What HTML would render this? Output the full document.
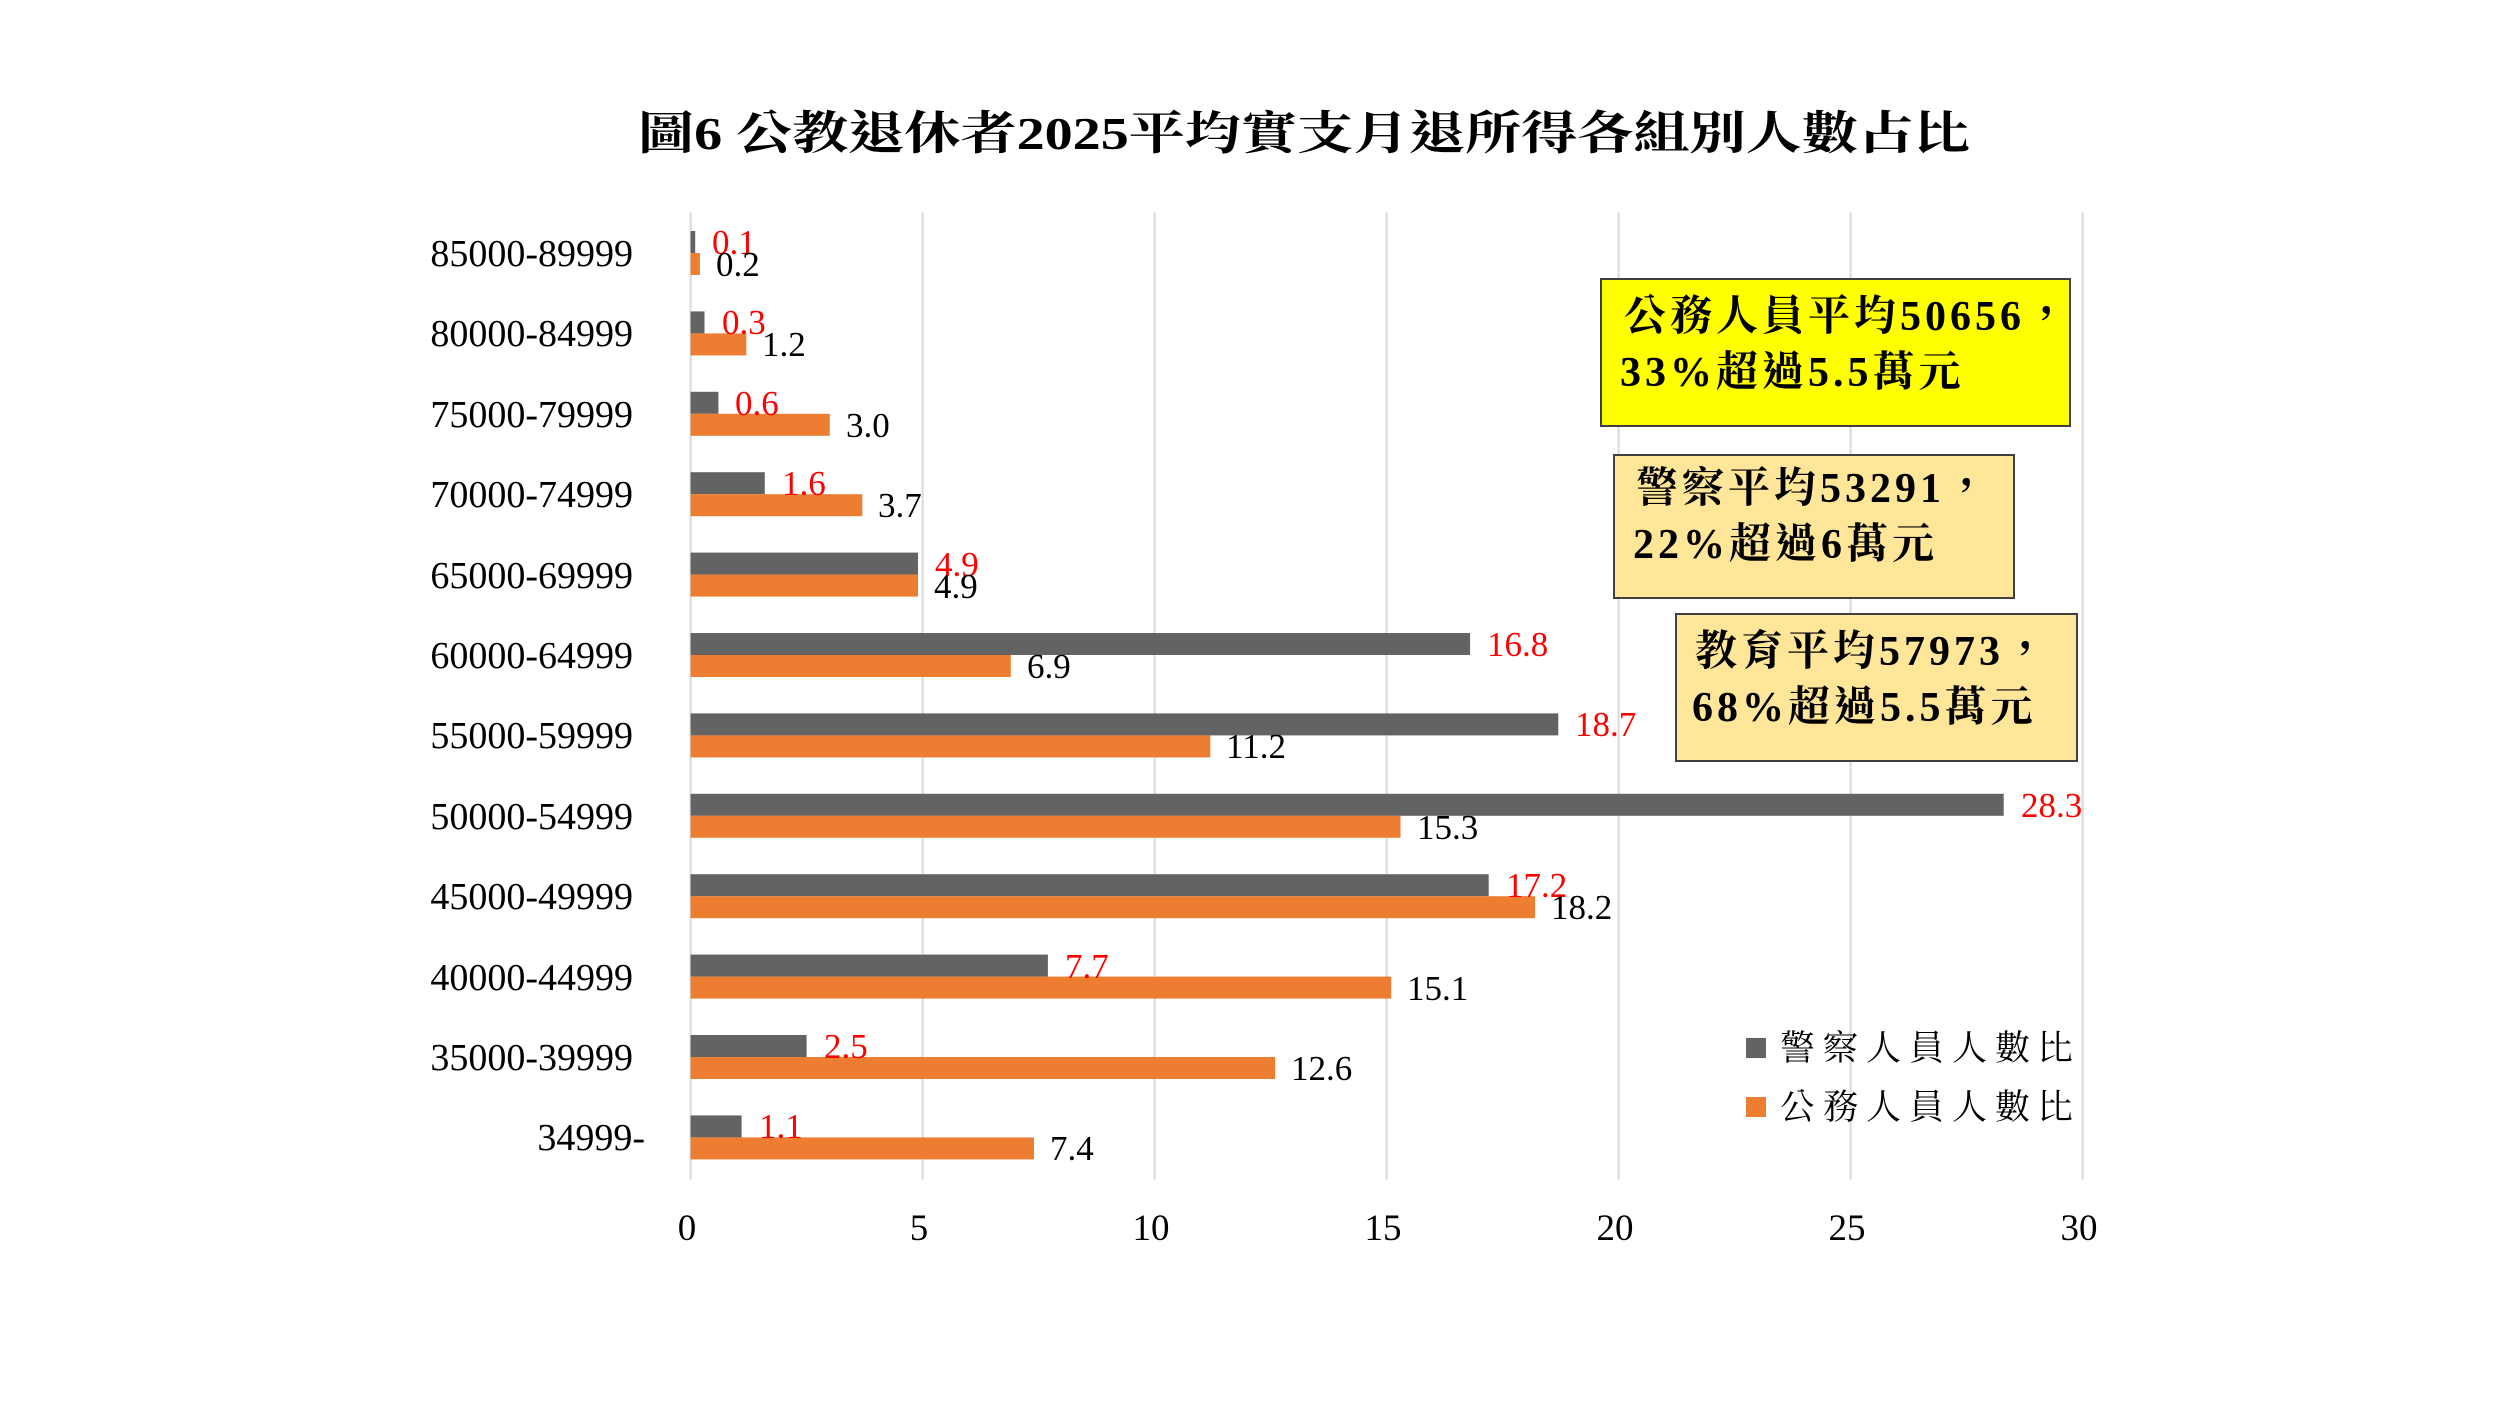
<!DOCTYPE html>
<html><head><meta charset="utf-8"><style>
html,body{margin:0;padding:0;background:#fff;}
svg{display:block;}
text{font-family:"Liberation Serif","Noto Serif CJK TC","Noto Serif CJK SC",serif;}
.cat{font-size:38px;fill:#000;text-anchor:end;}
.tk{font-size:37px;fill:#000;text-anchor:middle;}
.r{font-size:35px;fill:#ff0000;}
.b{font-size:35px;fill:#000;}
.bx{font-size:42px;font-weight:bold;fill:#000;}
.lg{font-size:35px;fill:#000;letter-spacing:8px;}
</style></head><body>
<svg width="2500" height="1406" viewBox="0 0 2500 1406" xmlns="http://www.w3.org/2000/svg">
<rect width="2500" height="1406" fill="#fff"/>
<text x="1304" y="149" text-anchor="middle" textLength="1332" lengthAdjust="spacingAndGlyphs" style="font-size:46px;font-weight:bold;">圖6 公教退休者2025平均實支月退所得各組別人數占比</text>
<g stroke="#d9d9d9" stroke-width="2">
<line x1="690.6" y1="212" x2="690.6" y2="1180"/>
<line x1="922.6" y1="212" x2="922.6" y2="1180"/>
<line x1="1154.6" y1="212" x2="1154.6" y2="1180"/>
<line x1="1386.6" y1="212" x2="1386.6" y2="1180"/>
<line x1="1618.6" y1="212" x2="1618.6" y2="1180"/>
<line x1="1850.6" y1="212" x2="1850.6" y2="1180"/>
<line x1="2082.6" y1="212" x2="2082.6" y2="1180"/>
</g>
<g fill="#636363">
<rect x="690.6" y="231" width="4.6" height="22"/>
<rect x="690.6" y="311.4" width="13.9" height="22"/>
<rect x="690.6" y="391.8" width="27.8" height="22"/>
<rect x="690.6" y="472.2" width="74.2" height="22"/>
<rect x="690.6" y="552.6" width="227.4" height="22"/>
<rect x="690.6" y="633" width="779.5" height="22"/>
<rect x="690.6" y="713.4" width="867.7" height="22"/>
<rect x="690.6" y="793.8" width="1313.1" height="22"/>
<rect x="690.6" y="874.2" width="798.1" height="22"/>
<rect x="690.6" y="954.6" width="357.3" height="22"/>
<rect x="690.6" y="1035" width="116" height="22"/>
<rect x="690.6" y="1115.4" width="51" height="22"/>
</g>
<g fill="#ed7d31">
<rect x="690.6" y="253" width="9.3" height="22"/>
<rect x="690.6" y="333.4" width="55.7" height="22"/>
<rect x="690.6" y="413.8" width="139.2" height="22"/>
<rect x="690.6" y="494.2" width="171.7" height="22"/>
<rect x="690.6" y="574.6" width="227.4" height="22"/>
<rect x="690.6" y="655" width="320.2" height="22"/>
<rect x="690.6" y="735.4" width="519.7" height="22"/>
<rect x="690.6" y="815.8" width="709.9" height="22"/>
<rect x="690.6" y="896.2" width="844.5" height="22"/>
<rect x="690.6" y="976.6" width="700.6" height="22"/>
<rect x="690.6" y="1057" width="584.6" height="22"/>
<rect x="690.6" y="1137.4" width="343.4" height="22"/>
</g>
<g>
<text class="cat" x="633" y="266">85000-89999</text>
<text class="cat" x="633" y="346">80000-84999</text>
<text class="cat" x="633" y="427">75000-79999</text>
<text class="cat" x="633" y="507">70000-74999</text>
<text class="cat" x="633" y="588">65000-69999</text>
<text class="cat" x="633" y="668">60000-64999</text>
<text class="cat" x="633" y="748">55000-59999</text>
<text class="cat" x="633" y="829">50000-54999</text>
<text class="cat" x="633" y="909">45000-49999</text>
<text class="cat" x="633" y="990">40000-44999</text>
<text class="cat" x="633" y="1070">35000-39999</text>
<text class="cat" x="645" y="1150">34999-</text>
</g>
<g>
<text class="r" x="712" y="254">0.1</text>
<text class="r" x="722" y="334">0.3</text>
<text class="r" x="735" y="415">0.6</text>
<text class="r" x="782" y="495">1.6</text>
<text class="r" x="935" y="576">4.9</text>
<text class="r" x="1487" y="656">16.8</text>
<text class="r" x="1575" y="736">18.7</text>
<text class="r" x="2021" y="817">28.3</text>
<text class="r" x="1506" y="897">17.2</text>
<text class="r" x="1065" y="978">7.7</text>
<text class="r" x="824" y="1058">2.5</text>
<text class="r" x="759" y="1138">1.1</text>
</g>
<g>
<text class="b" x="716" y="276">0.2</text>
<text class="b" x="762" y="356">1.2</text>
<text class="b" x="846" y="437">3.0</text>
<text class="b" x="878" y="517">3.7</text>
<text class="b" x="934" y="598">4.9</text>
<text class="b" x="1027" y="678">6.9</text>
<text class="b" x="1226" y="758">11.2</text>
<text class="b" x="1417" y="839">15.3</text>
<text class="b" x="1551" y="919">18.2</text>
<text class="b" x="1407" y="1000">15.1</text>
<text class="b" x="1291" y="1080">12.6</text>
<text class="b" x="1050" y="1160">7.4</text>
</g>
<g>
<text class="tk" x="687" y="1240">0</text>
<text class="tk" x="919" y="1240">5</text>
<text class="tk" x="1151" y="1240">10</text>
<text class="tk" x="1383" y="1240">15</text>
<text class="tk" x="1615" y="1240">20</text>
<text class="tk" x="1847" y="1240">25</text>
<text class="tk" x="2079" y="1240">30</text>
</g>
<rect x="1601" y="279" width="469" height="147" fill="#ffff00" stroke="#404040" stroke-width="2"/>
<text class="bx" x="1624" y="330" letter-spacing="4">公務人員平均50656，</text>
<text class="bx" x="1620" y="386" letter-spacing="4">33%超過5.5萬元</text>
<rect x="1614" y="455" width="400" height="143" fill="#ffe699" stroke="#404040" stroke-width="2"/>
<text class="bx" x="1636" y="502" letter-spacing="4">警察平均53291，</text>
<text class="bx" x="1633" y="558" letter-spacing="4">22%超過6萬元</text>
<rect x="1676" y="614" width="401" height="147" fill="#ffe699" stroke="#404040" stroke-width="2"/>
<text class="bx" x="1695" y="665" letter-spacing="4">教育平均57973，</text>
<text class="bx" x="1692" y="721" letter-spacing="4">68%超過5.5萬元</text>
<rect x="1746" y="1038" width="20" height="20" fill="#636363"/>
<text class="lg" x="1780" y="1060">警察人員人數比</text>
<rect x="1746" y="1097" width="20" height="20" fill="#ed7d31"/>
<text class="lg" x="1780" y="1119">公務人員人數比</text>
</svg>
</body></html>
